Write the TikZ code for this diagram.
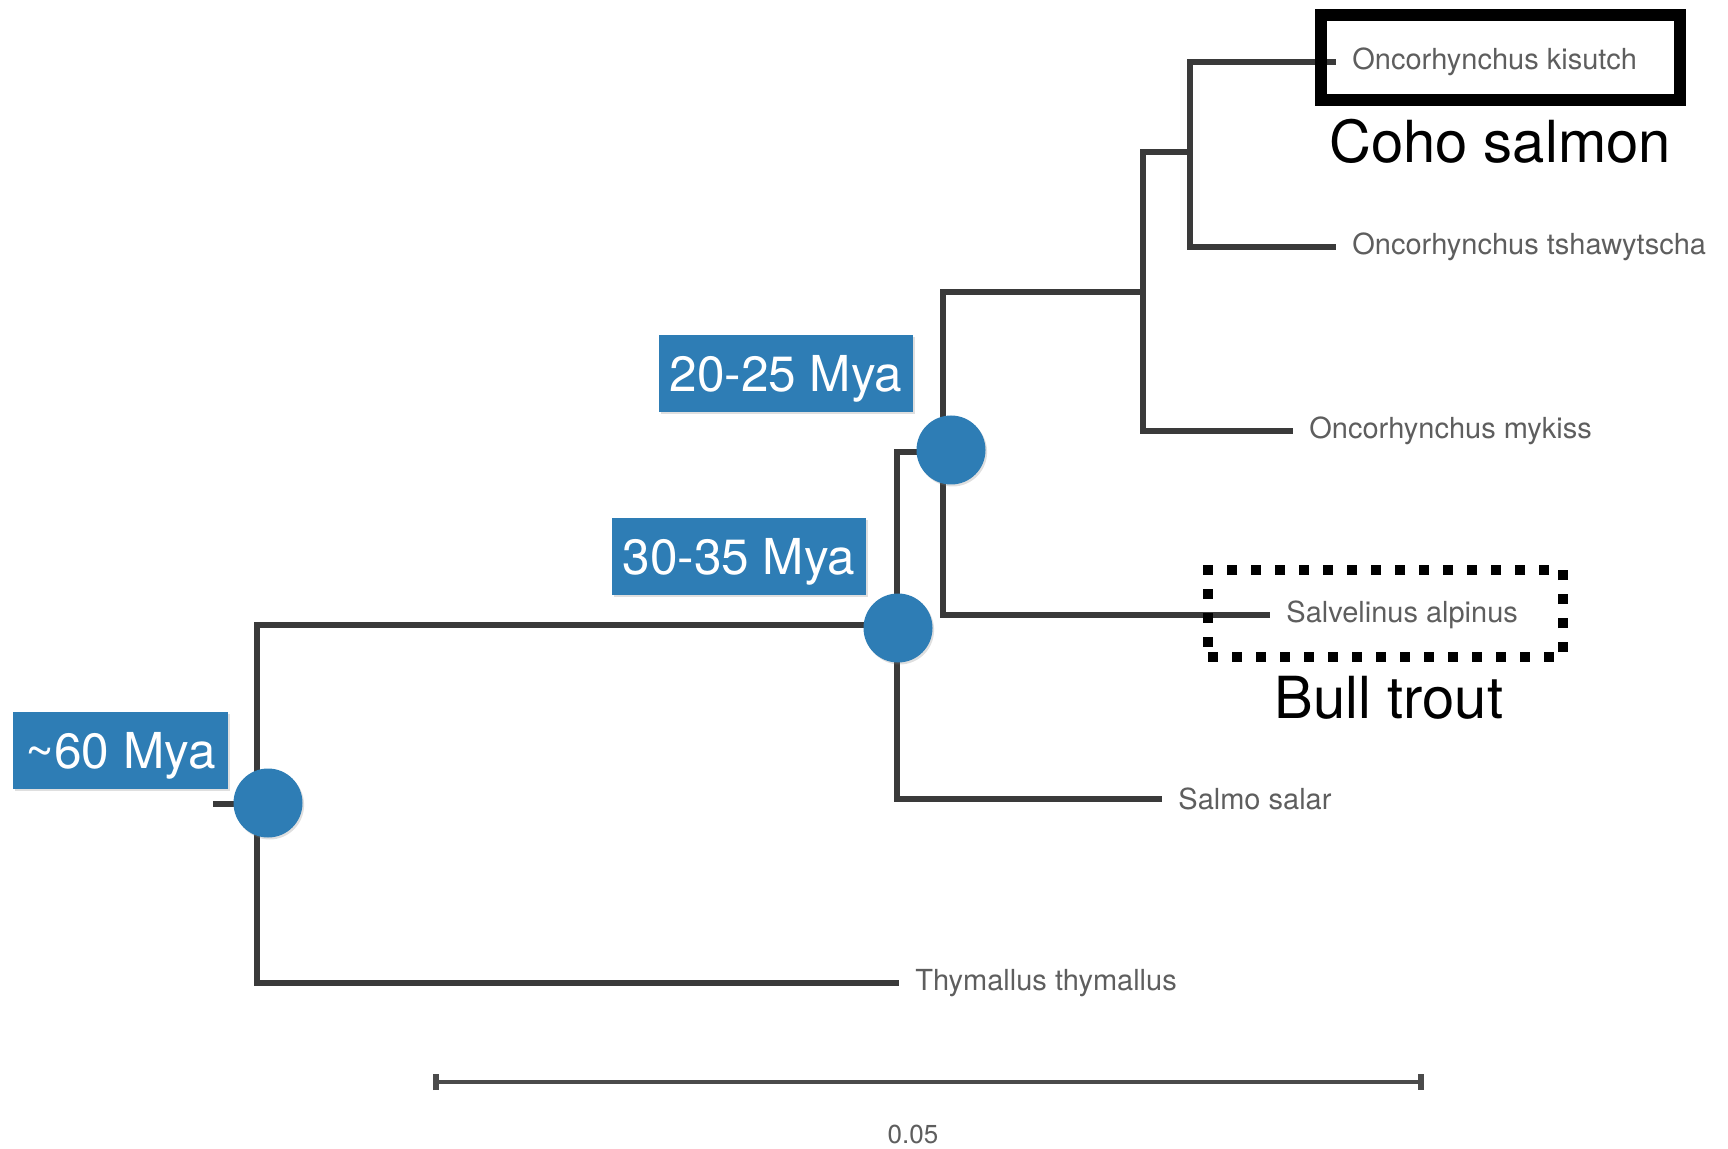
\documentclass[tikz,border=0pt]{standalone}
\usepackage{fontspec}
\setmainfont{TeX Gyre Heros}
\usetikzlibrary{arrows.meta,shadows}
\definecolor{agebluefill}{HTML}{2E7DB5}
\definecolor{branchgray}{HTML}{3A3A3A}
\definecolor{taxongray}{HTML}{5E5E5E}
\begin{document}
\begin{tikzpicture}[x=0.5pt,y=-0.5pt,
  branch/.style={draw=branchgray, line width=2.8pt},
  taxon/.style={anchor=west, inner xsep=8pt, inner ysep=0pt, text=taxongray, font=\fontsize{14.5}{17}\selectfont},
  agedot/.style={circle, fill=agebluefill, minimum size=34.5pt, inner sep=0pt, drop shadow={opacity=0.25, shadow xshift=0.8pt, shadow yshift=-1pt}},
  agebox/.style={fill=agebluefill, text=white, minimum height=38.5pt, inner sep=0pt, text depth=0pt, font=\fontsize{24.75}{28}\selectfont, drop shadow={opacity=0.25, shadow xshift=0.8pt, shadow yshift=-1pt}},
  commonname/.style={anchor=base, font=\fontsize{29}{34}\selectfont}]
\useasboundingbox (0,0) rectangle (1728,1149);
\coordinate (rootstub) at (213,804);
\coordinate (root) at (257,804);
\coordinate (a) at (897,625);
\coordinate (b) at (943,452);
\coordinate (c) at (1143,292);
\coordinate (d) at (1190,152);
\node[taxon] (kis) at (1336,62) {Oncorhynchus kisutch};
\node[taxon] (tsh) at (1336,247) {Oncorhynchus tshawytscha};
\node[taxon] (myk) at (1293,431) {Oncorhynchus mykiss};
\node[taxon] (salv) at (1270,615) {Salvelinus alpinus};
\node[taxon] (salmo) at (1162,799) {Salmo salar};
\node[taxon] (thym) at (899,983) {Thymallus thymallus};
\draw[branch] (rootstub) -- (root);
\draw[branch] (root) |- (a);
\draw[branch] (root) |- (thym.west);
\draw[branch] (a) |- (b);
\draw[branch] (a) |- (salmo.west);
\draw[branch] (b) |- (c);
\draw[branch] (b) |- (salv.west);
\draw[branch] (c) |- (d);
\draw[branch] (c) |- (myk.west);
\draw[branch] (d) |- (kis.west);
\draw[branch] (d) |- (tsh.west);
\node[agedot] (dotroot) at (268,803) {};
\node[agedot] (dota) at (898,628) {};
\node[agedot] (dotb) at (951,450) {};
\node[agebox, minimum width=107.5pt] (age60) at (120.5,750.5) {\textasciitilde 60 Mya};
\node[agebox, minimum width=127pt] (age3035) at (739,556.5) {30-35 Mya};
\node[agebox, minimum width=127pt] (age2025) at (786,373.5) {20-25 Mya};
\node[draw, line width=6pt, minimum width=179.5pt, minimum height=42.5pt, inner sep=0pt] (cohobox) at (1500.5,57.5) {};
\node[commonname] (coho) at (1500,163) {Coho salmon};
\node[draw, line width=5pt, dash pattern=on 5pt off 7pt, minimum width=177.5pt, minimum height=43.5pt, inner sep=0pt] (bullbox) at (1385.5,613.5) {};
\node[commonname] (bull) at (1389,718) {Bull trout};
\coordinate (barl) at (433,1082);
\coordinate (barr) at (1424,1082);
\draw[draw=taxongray!80!black, line width=2.2pt, {Bar[width=8pt,line width=3pt]}-{Bar[width=8pt,line width=3pt]}] (barl) -- (barr);
\node[text=taxongray, inner sep=0pt, font=\fontsize{13}{15}\selectfont] (scale) at (913,1134) {0.05};
\end{tikzpicture}
\end{document}
